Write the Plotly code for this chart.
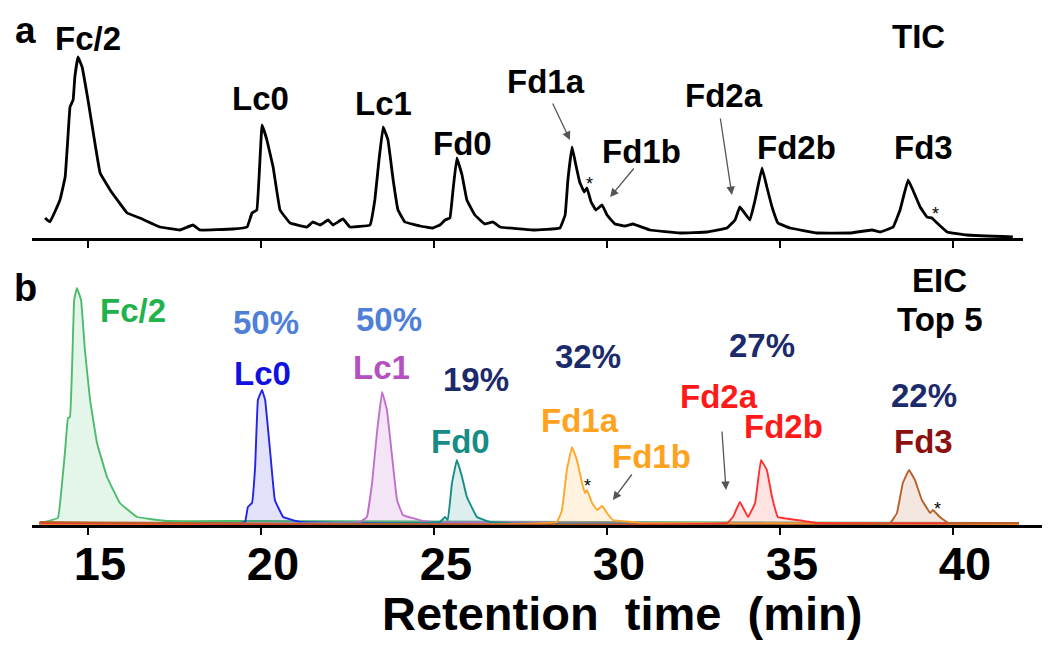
import plotly.graph_objects as go

# TIC trace (panel a): retention time (min) and intensity (a.u.)
tic_time = [13.76, 13.90, 14.19, 14.34, 14.42, 14.48, 14.57, 14.62, 14.71, 14.83, 15.00, 15.20, 15.35,
            15.64, 16.13, 16.50, 17.08, 17.66, 18.03, 18.24, 19.19, 19.60, 19.74, 19.88, 20.03, 20.17,
            20.35, 20.55, 20.84, 21.33, 21.50, 21.71, 21.94, 22.08, 22.37, 22.57, 23.15, 23.29, 23.41,
            23.53, 23.67, 23.82, 23.96, 24.16, 24.60, 24.97, 25.17, 25.32, 25.46, 25.55, 25.66, 25.81,
            25.95, 26.18, 26.47, 26.71, 26.91, 27.86, 28.64, 28.79, 28.87, 28.99, 29.10, 29.21, 29.34,
            29.42, 29.54, 29.68, 29.86, 30.00, 30.23, 30.52, 30.75, 31.24, 32.11, 32.89, 33.47, 33.70,
            33.84, 34.13, 34.28, 34.48, 34.62, 34.77, 34.94, 35.29, 36.07, 37.02, 37.66, 37.89, 38.27,
            38.47, 38.70, 38.84, 39.05, 39.25, 39.39, 39.54, 39.83, 40.40, 41.73]
tic_int = [20, 16, 38, 61, 101, 131, 138, 161, 181, 171, 138, 95, 65,
           48, 25, 20, 11, 8, 13, 8, 9, 11, 25, 28, 113, 98,
           71, 28, 15, 11, 16, 13, 18, 13, 19, 11, 13, 38, 78,
           111, 98, 58, 28, 16, 12, 10, 13, 18, 20, 48, 80, 63,
           38, 23, 14, 16, 11, 8, 10, 23, 58, 91, 73, 56, 46,
           50, 36, 28, 33, 23, 14, 12, 14, 8, 5, 6, 10, 18,
           31, 18, 38, 70, 51, 31, 15, 10, 5, 5, 8, 6, 11,
           28, 58, 48, 31, 21, 20, 15, 6, 3, 1]

# EIC traces (panel b)
fc_time = [13.60, 14.13, 14.25, 14.34, 14.42, 14.48, 14.54, 14.60, 14.68, 14.80, 14.91, 15.06, 15.26,
           15.55, 15.92, 16.42, 17.28, 19.48, 41.90]
fc_int = [2, 7, 42, 75, 107, 108, 158, 225, 237, 225, 175, 125, 82, 48, 22, 8, 4, 4, 2]

lc0_time = [13.60, 19.40, 19.54, 19.62, 19.74, 19.83, 19.91, 20.03, 20.12, 20.26, 20.40, 20.64, 21.13, 41.90]
lc0_int = [1, 2, 3, 18, 22, 58, 125, 135, 125, 75, 25, 8, 3, 1]

lc1_time = [13.60, 22.86, 23.06, 23.21, 23.35, 23.50, 23.64, 23.79, 23.93, 24.10, 24.68, 24.97, 41.90]
lc1_int = [1, 3, 8, 42, 92, 133, 115, 68, 25, 10, 4, 3, 1]

fd0_time = [13.60, 25.17, 25.32, 25.40, 25.52, 25.66, 25.81, 25.95, 26.24, 26.62, 27.20, 41.90]
fd0_int = [1, 3, 8, 5, 42, 65, 48, 28, 8, 3, 2, 1]

fd1_time = [13.60, 28.55, 28.70, 28.84, 28.99, 29.13, 29.28, 29.36, 29.42, 29.57, 29.71, 29.86, 30.00,
            30.17, 30.75, 30.95, 41.90]
fd1_int = [1, 3, 15, 55, 78, 65, 42, 32, 35, 22, 15, 19, 12, 5, 3, 2, 1]

fd2_time = [13.60, 33.47, 33.64, 33.84, 34.08, 34.28, 34.45, 34.62, 34.77, 34.94, 35.49, 36.07, 41.90]
fd2_int = [2, 2, 8, 23, 8, 22, 65, 55, 28, 8, 5, 2, 2]

fd3_time = [13.60, 38.18, 38.38, 38.55, 38.73, 38.90, 39.10, 39.34, 39.42, 39.62, 39.86, 40.20, 41.90]
fd3_int = [3, 2, 12, 42, 55, 45, 25, 12, 15, 8, 2, 2, 2]

tick_vals = [15, 20, 25, 30, 35, 40]

FONT = "Liberation Sans, Arial, sans-serif"

fig = go.Figure()

fig.add_trace(go.Scatter(x=tic_time, y=tic_int, mode="lines",
                         line=dict(color="black", width=2.8, shape="spline", smoothing=0.2),
                         xaxis="x", yaxis="y", showlegend=False))

eic = [
    (fc_time, fc_int, "#4cbb6c", "rgba(76,187,108,0.15)"),
    (lc0_time, lc0_int, "#2424e8", "rgba(60,60,230,0.15)"),
    (lc1_time, lc1_int, "#c070cc", "rgba(190,110,200,0.18)"),
    (fd0_time, fd0_int, "#178c86", "rgba(22,140,134,0.15)"),
    (fd1_time, fd1_int, "#ffa62b", "rgba(255,170,40,0.15)"),
    (fd2_time, fd2_int, "#ff3030", "rgba(255,60,60,0.15)"),
    (fd3_time, fd3_int, "#b8602c", "rgba(184,96,44,0.15)"),
]
for t, i, col, fillcol in eic:
    fig.add_trace(go.Scatter(x=t, y=i, mode="lines", fill="tozeroy", fillcolor=fillcol,
                             line=dict(color=col, width=1.9, shape="spline", smoothing=0.2),
                             xaxis="x2", yaxis="y2", showlegend=False))

ann = []


def label(x, y, text, color="black", size=33, xref="x", yref="y", yanchor="middle"):
    ann.append(dict(x=x, y=y, xref=xref, yref=yref, text=text, showarrow=False,
                    font=dict(family=FONT, size=size, color=color), xanchor="center", yanchor=yanchor))


def arrow(x, y, ax, ay, xref="x", yref="y"):
    ann.append(dict(x=x, y=y, ax=ax, ay=ay, xref=xref, yref=yref, axref=xref, ayref=yref, text="",
                    showarrow=True, arrowhead=2, arrowsize=1.3, arrowwidth=1.3, arrowcolor="#555"))


# panel a
label(15.0, 200, "<b>Fc/2</b>")
label(20.0, 140, "<b>Lc0</b>")
label(23.53, 135, "<b>Lc1</b>")
label(25.81, 95, "<b>Fd0</b>")
label(28.24, 157, "<b>Fd1a</b>")
label(31.01, 87, "<b>Fd1b</b>")
label(33.38, 143, "<b>Fd2a</b>")
label(35.49, 91, "<b>Fd2b</b>")
label(39.16, 91, "<b>Fd3</b>")
label(38.99, 202, "<b>TIC</b>")
label(29.48, 54, "*", size=18)
label(39.48, 24, "*", size=18)
arrow(28.93, 98, 28.41, 136)
arrow(30.09, 41, 30.81, 71)
arrow(33.61, 43, 33.27, 121)

# panel b
label(16.30, 214, "<b>Fc/2</b>", "#22b24c", xref="x2", yref="y2")
label(20.14, 202, "<b>50%</b>", "#4f7fd6", xref="x2", yref="y2")
label(20.03, 151, "<b>Lc0</b>", "#1010e0", xref="x2", yref="y2")
label(23.70, 205, "<b>50%</b>", "#4f7fd6", xref="x2", yref="y2")
label(23.47, 157, "<b>Lc1</b>", "#b450c0", xref="x2", yref="y2")
label(26.21, 145, "<b>19%</b>", "#1b2a6b", xref="x2", yref="y2")
label(25.78, 83, "<b>Fd0</b>", "#168c86", xref="x2", yref="y2")
label(29.45, 168, "<b>32%</b>", "#1b2a6b", xref="x2", yref="y2")
label(29.22, 104, "<b>Fd1a</b>", "#ffa31f", xref="x2", yref="y2")
label(31.30, 68, "<b>Fd1b</b>", "#ffa31f", xref="x2", yref="y2")
label(34.48, 179, "<b>27%</b>", "#1b2a6b", xref="x2", yref="y2")
label(33.24, 128, "<b>Fd2a</b>", "#ff1a1a", xref="x2", yref="y2")
label(35.09, 98, "<b>Fd2b</b>", "#ff1a1a", xref="x2", yref="y2")
label(39.16, 129, "<b>22%</b>", "#1b2a6b", xref="x2", yref="y2")
label(39.16, 83, "<b>Fd3</b>", "#8b1111", xref="x2", yref="y2")
label(39.62, 244, "<b>EIC</b>", xref="x2", yref="y2")
label(39.62, 205, "<b>Top 5</b>", xref="x2", yref="y2")
label(29.45, 39, "*", size=18, xref="x2", yref="y2")
label(39.54, 16, "*", size=18, xref="x2", yref="y2")
arrow(30.17, 25, 30.75, 52, xref="x2", yref="y2")
arrow(33.44, 35, 33.32, 95, xref="x2", yref="y2")

# panel letters and axis title
label(0.017, 1.0, "<b>a</b>", size=37, xref="paper", yref="paper", yanchor="top")
label(0.017, 0.566, "<b>b</b>", size=38, xref="paper", yref="paper")
label(0.5848, 0.063, "<b>Retention\u00a0 time\u00a0 (min)</b>", size=47, xref="paper", yref="paper")

axis_common = dict(showgrid=False, zeroline=False, showline=True, linecolor="black", linewidth=2.5,
                   ticks="outside", ticklen=7, tickwidth=2, tickcolor="black", tickvals=tick_vals)

fig.update_layout(
    width=1050, height=646,
    margin=dict(l=0, r=0, t=0, b=0),
    paper_bgcolor="white", plot_bgcolor="white",
    xaxis=dict(domain=[0.022857, 0.966667], range=[13.3815, 42.0231], anchor="y", showticklabels=False,
               **axis_common),
    yaxis=dict(domain=[0.64396, 1.0], range=[0, 230], visible=False, anchor="x"),
    xaxis2=dict(domain=[0.022857, 0.984762], range=[13.3815, 42.5723], anchor="y2",
                tickfont=dict(family=FONT, size=47, color="black", weight="bold"),
                ticklabelshift=12, ticklabelstandoff=-11, **axis_common),
    yaxis2=dict(domain=[0.19969, 0.59443], range=[0, 255], visible=False, anchor="x2"),
    annotations=ann,
)

fig.write_html("out.html")
